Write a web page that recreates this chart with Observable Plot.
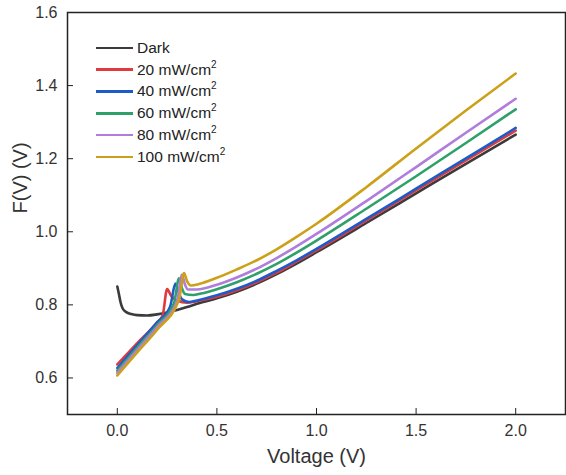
<!DOCTYPE html>
<html>
<head>
<meta charset="utf-8">
<script src="https://cdn.jsdelivr.net/npm/d3@7"></script>
<script src="https://cdn.jsdelivr.net/npm/@observablehq/plot@0.6"></script>
<style>
  html, body { margin: 0; padding: 0; background: #fff; }
  #wrap { position: relative; width: 566px; height: 475px; font-family: "Liberation Sans", Arial, sans-serif; }
  #legend { position: absolute; left: 96px; top: 37px; font-size: 15.5px; color: #222; }
  .item { display: flex; align-items: center; height: 21.8px; }
  .sw { width: 37px; height: 2.6px; margin-right: 4px; }
  sup { font-size: 10px; line-height: 0; position: relative; top: -1px; }
</style>
</head>
<body>
<div id="wrap"></div>
<script>
const seriesNames = ["Dark", "20 mW/cm2", "40 mW/cm2", "60 mW/cm2", "80 mW/cm2", "100 mW/cm2"];
const seriesColors = ["#3b3b3b", "#e03a3e", "#1f5bc6", "#2fa06a", "#b07ddc", "#cda01a"];

const darkX = [0, 0.008, 0.016, 0.027, 0.045, 0.07, 0.1, 0.15, 0.2, 0.25, 0.3, 0.35, 0.4, 0.5, 0.6, 0.7, 0.8, 0.9, 1.0, 1.25, 1.5, 1.75, 2.0];
const darkY = [0.85, 0.83, 0.808, 0.79, 0.78, 0.775, 0.772, 0.771, 0.774, 0.779, 0.786, 0.794, 0.803, 0.818, 0.836, 0.858, 0.884, 0.913, 0.944, 1.024, 1.105, 1.186, 1.266];

const redX = [0, 0.1, 0.2, 0.228, 0.25, 0.27, 0.3, 0.35, 0.4, 0.5, 0.6, 0.7, 0.8, 0.9, 1.0, 1.25, 1.5, 1.75, 2.0];
const redY = [0.637, 0.695, 0.752, 0.772, 0.843, 0.825, 0.812, 0.806, 0.81, 0.822, 0.84, 0.862, 0.888, 0.918, 0.949, 1.031, 1.113, 1.195, 1.277];

const blueX = [0, 0.1, 0.2, 0.265, 0.292, 0.31, 0.325, 0.36, 0.4, 0.5, 0.6, 0.7, 0.8, 0.9, 1.0, 1.25, 1.5, 1.75, 2.0];
const blueY = [0.627, 0.69, 0.752, 0.795, 0.858, 0.83, 0.815, 0.808, 0.812, 0.826, 0.844, 0.866, 0.893, 0.922, 0.953, 1.035, 1.118, 1.201, 1.284];

const greenX = [0, 0.1, 0.2, 0.285, 0.31, 0.325, 0.34, 0.38, 0.42, 0.5, 0.6, 0.7, 0.8, 0.9, 1.0, 1.25, 1.5, 1.75, 2.0];
const greenY = [0.62, 0.683, 0.745, 0.805, 0.873, 0.845, 0.83, 0.827, 0.831, 0.843, 0.862, 0.885, 0.912, 0.943, 0.976, 1.063, 1.152, 1.243, 1.335];

const purpleX = [0, 0.1, 0.2, 0.3, 0.325, 0.34, 0.355, 0.4, 0.5, 0.6, 0.7, 0.8, 0.9, 1.0, 1.25, 1.5, 1.75, 2.0];
const purpleY = [0.614, 0.677, 0.739, 0.81, 0.882, 0.855, 0.842, 0.842, 0.855, 0.875, 0.899, 0.928, 0.96, 0.994, 1.084, 1.177, 1.271, 1.364];

const goldX = [0, 0.1, 0.2, 0.31, 0.335, 0.35, 0.37, 0.41, 0.5, 0.6, 0.7, 0.8, 0.9, 1.0, 1.25, 1.5, 1.75, 2.0];
const goldY = [0.607, 0.67, 0.732, 0.815, 0.887, 0.865, 0.853, 0.857, 0.874, 0.897, 0.922, 0.952, 0.986, 1.022, 1.122, 1.228, 1.332, 1.433];

const xTicks = [0, 0.5, 1.0, 1.5, 2.0];
const yTicks = [0.6, 0.8, 1.0, 1.2, 1.4, 1.6];

const allX = [darkX, redX, blueX, greenX, purpleX, goldX];
const allY = [darkY, redY, blueY, greenY, purpleY, goldY];
const rows = [];
allX.forEach((xs, i) => xs.forEach((x, j) => rows.push({series: seriesNames[i], x, y: allY[i][j]})));

const chart = Plot.plot({
  width: 566,
  height: 475,
  marginLeft: 67,
  marginRight: 1,
  marginTop: 12,
  marginBottom: 61,
  style: {fontFamily: "'Liberation Sans', Arial, sans-serif", fontSize: "16px", color: "#333", background: "#fff"},
  x: {domain: [-0.25, 2.25], ticks: xTicks, tickFormat: d3.format(".1f")},
  y: {domain: [0.5, 1.6], ticks: yTicks, tickFormat: d3.format(".1f")},
  color: {domain: seriesNames, range: seriesColors},
  marks: [
    Plot.frame({stroke: "#222", strokeWidth: 1.5}),
    Plot.axisX({ticks: xTicks, tickFormat: d3.format(".1f"), tickSize: -6, tickPadding: 16, stroke: "#222", fontSize: 16, label: null}),
    Plot.axisY({ticks: yTicks, tickFormat: d3.format(".1f"), tickSize: -6, tickPadding: 16, stroke: "#222", fontSize: 16, label: null}),
    Plot.line(rows, {x: "x", y: "y", z: "series", stroke: "series", strokeWidth: 2.6, curve: "monotone-x"}),
    Plot.text(["Voltage (V)"], {frameAnchor: "bottom", dy: 48, fontSize: 20, fill: "#333"}),
    Plot.text(["F(V) (V)"], {frameAnchor: "left", dx: -47, rotate: -90, fontSize: 20, fill: "#333"})
  ]
});

const wrap = document.getElementById("wrap");
wrap.appendChild(chart);
const legend = document.createElement("div");
legend.id = "legend";
seriesNames.forEach((name, i) => {
  const item = document.createElement("div");
  item.className = "item";
  const sw = document.createElement("div");
  sw.className = "sw";
  sw.style.background = seriesColors[i];
  const label = document.createElement("span");
  if (name.endsWith("cm2")) {
    label.innerHTML = name.slice(0, -1) + "<sup>2</sup>";
  } else {
    label.textContent = name;
  }
  item.appendChild(sw);
  item.appendChild(label);
  legend.appendChild(item);
});
wrap.appendChild(legend);
</script>
</body>
</html>
